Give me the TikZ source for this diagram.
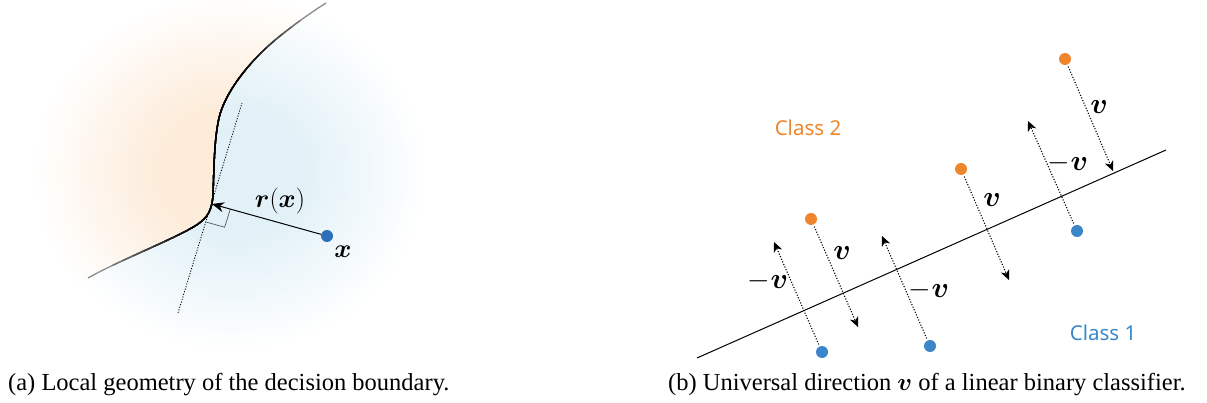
\RequirePackage{fix-cm}
\documentclass[tikz,border=0pt]{standalone}
\usepackage{amsmath}
\usepackage{bm}
\usepackage{fontspec}
\setmainfont{Liberation Serif}
\newfontfamily\labelfont{Noto Sans}
\usetikzlibrary{arrows.meta,calc}

\definecolor{peach}{RGB}{253,236,218}
\definecolor{skyhaze}{RGB}{226,241,247}
\definecolor{ptblue}{RGB}{44,110,184}
\definecolor{clsblue}{RGB}{58,134,200}
\definecolor{clsorange}{RGB}{240,134,44}

\pgfdeclareradialshading{peachglow}{\pgfpoint{0bp}{0bp}}{color(0bp)=(peach); color(9bp)=(peach); color(25bp)=(white); color(50bp)=(white)}
\pgfdeclareradialshading{skyglow}{\pgfpoint{0bp}{0bp}}{color(0bp)=(skyhaze); color(9bp)=(skyhaze); color(25bp)=(white); color(50bp)=(white)}

% decision boundary of panel (a)
\def\bdry{(88,278) .. controls (120,260) and (172,240) .. (195,226)
  .. controls (208,218) and (212,210) .. (213,195)
  .. controls (214,170) and (214,140) .. (219,118)
  .. controls (225,92) and (250,60) .. (280,36)
  .. controls (300,20) and (315,10) .. (326,3)}

\tikzset{
  caption/.style={anchor=base west, inner sep=0pt, font=\fontsize{24.5}{28}\selectfont},
  mathlabel/.style={inner sep=0pt, font=\fontsize{26}{30}\selectfont},
  vlabel/.style={inner sep=0pt, font=\fontsize{29}{33}\selectfont},
  classlabel/.style={inner sep=0pt, font=\labelfont\fontsize{20.5}{24}\selectfont},
  dot/.style={circle, inner sep=0pt, minimum size=12pt},
  vec/.style={line width=1.1pt, dash pattern=on 1.1pt off 1.7pt,
    -{Stealth[length=10pt,width=9pt,inset=3pt]}, shorten <=2pt}
}

\begin{document}
\begin{tikzpicture}[x=1pt,y=-1pt]
\useasboundingbox (0,0) rectangle (1207,403);

% ---------- (a) local geometry ----------
\begin{scope}
  \clip (60,300) -- \bdry -- (345,-20) -- (0,-20) -- (0,300) -- cycle;
  \shade[shading=peachglow] (228,172) ellipse [x radius=196, y radius=180];
\end{scope}
\begin{scope}
  \clip (60,300) -- \bdry -- (345,-20) -- (470,-20) -- (470,390) -- (0,390) -- (0,300) -- cycle;
  \shade[shading=skyglow] (232,172) ellipse [x radius=196, y radius=180];
\end{scope}

% boundary darkens towards the middle
\draw[black!45, line width=1.3pt] \bdry;
\foreach \rad/\dk in {150/55, 140/62, 130/69, 120/76, 110/83, 100/90, 90/95, 80/100} {
  \begin{scope}
    \clip (215,150) ellipse [x radius=\rad, y radius=\rad*1.05];
    \draw[black!\dk, line width=1.35pt] \bdry;
  \end{scope}
}

\coordinate (F) at (212,204);
\coordinate (tlo) at (178,313);
\coordinate (thi) at (242,103);
\draw[line width=0.8pt, dash pattern=on 1.2pt off 1.5pt] (tlo) -- (thi);

\node[dot, fill=ptblue] (xa) at (327,236) {};
\coordinate (sqa) at ($(F)!19pt!(tlo)$);
\coordinate (sqb) at ($(F)!19pt!(xa)$);
\draw[black!65, line width=0.7pt] (sqa) -- ($(sqa)+(sqb)-(F)$) -- (sqb);
\draw[line width=1pt, -{Stealth[length=12pt,width=10pt]}] (xa) -- (F);

\node[mathlabel] (rlab) at (280,201) {$\bm{r}(\bm{x})$};
\node[mathlabel] (xlab) at (343,252) {$\bm{x}$};

% ---------- (b) linear classifier ----------
\coordinate (la) at (697,358);
\coordinate (lb) at (1166,150);
\draw[line width=1pt] (la) -- (lb);

\node[dot, fill=clsorange] (o1) at (1065,59) {};
\node[dot, fill=clsorange] (o2) at (961,169) {};
\node[dot, fill=clsorange] (o3) at (811,219) {};
\node[dot, fill=clsblue] (b1) at (1077,231) {};
\node[dot, fill=clsblue] (b2) at (930,346) {};
\node[dot, fill=clsblue] (b3) at (822,352) {};

\coordinate (t1) at (1113,171);
\coordinate (t2) at (1009,280);
\coordinate (t3) at (858,327);
\coordinate (u1) at (1028,121);
\coordinate (u2) at (882,236);
\coordinate (u3) at (774,242);

\draw[vec] (o1) -- (t1);
\draw[vec] (o2) -- (t2);
\draw[vec] (o3) -- (t3);
\draw[vec] (b1) -- (u1);
\draw[vec] (b2) -- (u2);
\draw[vec] (b3) -- (u3);

\node[vlabel] (v1) at (1099,107) {$\bm{v}$};
\node[vlabel] (v2) at (992,200) {$\bm{v}$};
\node[vlabel] (v3) at (842,253) {$\bm{v}$};
\node[vlabel] (m1) at (1068,163) {$-\bm{v}$};
\node[vlabel] (m2) at (929,290) {$-\bm{v}$};
\node[vlabel] (m3) at (768,281) {$-\bm{v}$};

\node[classlabel, text=clsorange] (c2) at (808,128) {Class 2};
\node[classlabel, text=clsblue] (c1) at (1103,333) {Class 1};

% ---------- captions ----------
\node[caption] (capa) at (8,390) {(a) Local geometry of the decision boundary.};
\node[caption] (capb) at (668,390) {(b) Universal direction $\bm{v}$ of a linear binary classifier.};
\end{tikzpicture}
\end{document}
